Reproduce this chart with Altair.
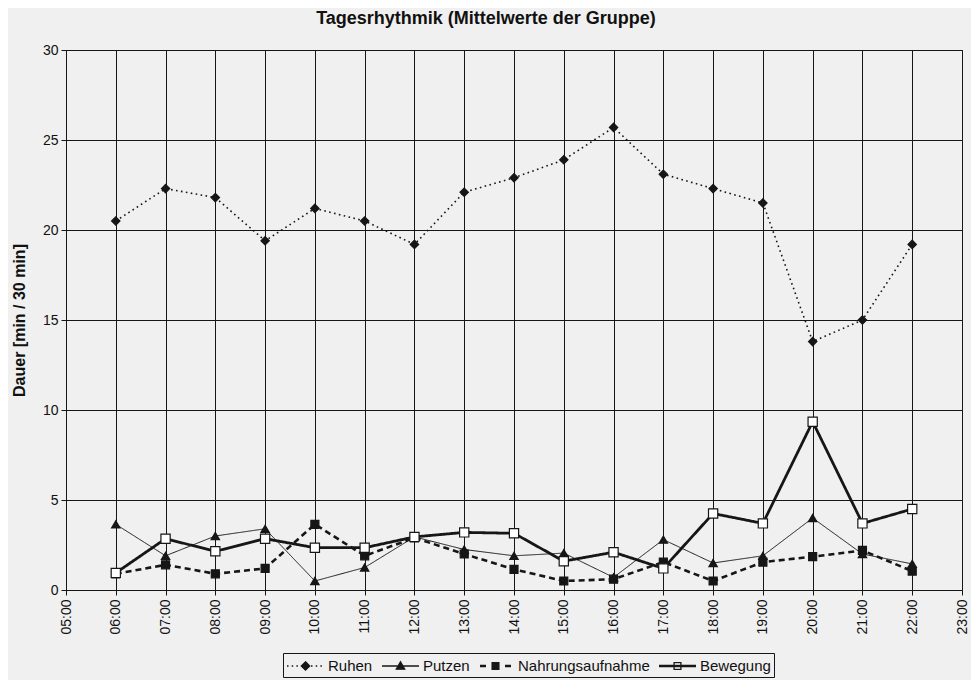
import altair as alt
import pandas as pd

times = ["06:00", "07:00", "08:00", "09:00", "10:00", "11:00", "12:00", "13:00", "14:00",
         "15:00", "16:00", "17:00", "18:00", "19:00", "20:00", "21:00", "22:00"]
series_names = ["Ruhen", "Putzen", "Nahrungsaufnahme", "Bewegung"]
ruhen = [20.5, 22.3, 21.8, 19.4, 21.2, 20.5, 19.2, 22.1, 22.9, 23.9, 25.7, 23.1, 22.3, 21.5, 13.8, 15.0, 19.2]
putzen = [3.65, 1.9, 3.0, 3.4, 0.5, 1.25, 2.95, 2.25, 1.9, 2.05, 0.7, 2.8, 1.5, 1.9, 4.0, 2.0, 1.45]
nahrung = [0.9, 1.4, 0.9, 1.2, 3.65, 1.9, 2.9, 2.0, 1.15, 0.5, 0.6, 1.55, 0.5, 1.55, 1.85, 2.2, 1.05]
bewegung = [0.95, 2.85, 2.15, 2.85, 2.35, 2.35, 2.95, 3.2, 3.15, 1.6, 2.1, 1.2, 4.25, 3.7, 9.35, 3.7, 4.5]
y_ticks = [0, 5, 10, 15, 20, 25, 30]
hour_ticks = list(range(5, 24))

rows = []
for name, vals in zip(series_names, [ruhen, putzen, nahrung, bewegung]):
    for t, v in zip(times, vals):
        rows.append({"Zeit": t, "Stunde": int(t[:2]), "Serie": name, "Wert": v})
df = pd.DataFrame(rows)

INK = "#161616"
FONT = "Liberation Sans"

x = alt.X("Stunde:Q",
          scale=alt.Scale(domain=[5, 23], nice=False, zero=False),
          axis=alt.Axis(values=hour_ticks,
                        labelExpr="(datum.value < 10 ? '0' : '') + datum.value + ':00'",
                        labelAngle=270, labelAlign="right", labelBaseline="middle",
                        labelFontSize=14, labelPadding=4, tickSize=5, grid=True),
          title=None)
y = alt.Y("Wert:Q",
          scale=alt.Scale(domain=[0, 30], nice=False),
          axis=alt.Axis(values=y_ticks, labelFontSize=14, tickSize=5, grid=True,
                        labelPadding=3, titleFontSize=16, titleFontWeight="bold",
                        titlePadding=15),
          title="Dauer [min / 30 min]")

lines = alt.Chart(df).mark_line(color=INK).encode(
    x=x, y=y,
    detail="Serie:N",
    strokeDash=alt.StrokeDash("Serie:N", scale=alt.Scale(domain=series_names,
                              range=[[1.6, 3.4], [1, 0], [6, 4], [1, 0]]), legend=None),
    strokeWidth=alt.StrokeWidth("Serie:N", scale=alt.Scale(type="ordinal", domain=series_names,
                                range=[1.6, 1.0, 2.6, 2.8]), legend=None),
)

points = alt.Chart(df).mark_point(filled=False, stroke=INK, strokeWidth=1.2,
                                  opacity=1, fillOpacity=1).encode(
    x=x, y=y,
    shape=alt.Shape("Serie:N", scale=alt.Scale(domain=series_names,
                    range=["diamond", "triangle-up", "square", "square"]), legend=None),
    fill=alt.Fill("Serie:N", scale=alt.Scale(domain=series_names,
                  range=[INK, INK, INK, "white"]), legend=None),
    size=alt.Size("Serie:N", scale=alt.Scale(type="ordinal", domain=series_names,
                  range=[70, 70, 64, 85]), legend=None),
)

# legend glyphs: drawn in pixel units (0..37 wide), converted to the unit symbol space
SYM = 324            # symbol area -> 18 px box, 9 px per unit
U = 9.0
C = 9.0              # symbol centre inside the entry


def ux(px):
    return (px - C) / U


def seg(x0, x1, dy=0.0):
    return f"M{ux(x0):.3f},{dy / U:.3f} H{ux(x1):.3f}"


def dotted(x0, x1, on, off):
    out = []
    s = x0
    while s < x1:
        out.append(seg(s, min(s + on, x1)))
        s += on + off
    return " ".join(out)


def poly(pts):
    return "M" + " L".join(f"{ux(px):.3f},{py / U:.3f}" for px, py in pts) + " Z"


MID = 18.5
diamond = poly([(MID, -4.2), (MID + 4.2, 0), (MID, 4.2), (MID - 4.2, 0)])
triangle = poly([(MID, -4.2), (MID + 4.2, 3.2), (MID - 4.2, 3.2)])
fsquare = poly([(MID - 3.4, -3.4), (MID + 3.4, -3.4), (MID + 3.4, 3.4), (MID - 3.4, 3.4)])
osquare = poly([(MID - 3.4, -3.4), (MID + 3.4, -3.4), (MID + 3.4, 3.4), (MID - 3.4, 3.4)])
legend_paths = [
    dotted(0, 13, 1.5, 3.2) + " " + dotted(24, 37, 1.5, 3.2) + " " + diamond,
    seg(0, 37) + " " + triangle,
    " ".join([seg(3, 9, -0.6), seg(3, 9, 0.6), seg(28, 34, -0.6), seg(28, 34, 0.6)]) + " " + fsquare,
    " ".join([seg(0, 37, -0.7), seg(0, 37, 0.7)]) + " " + osquare,
]

leg = alt.Legend(title=None, orient="none", legendX=217, legendY=603,
                 direction="horizontal", symbolSize=SYM, symbolStrokeWidth=1.3,
                 symbolStrokeColor=INK, labelFontSize=15, labelFont=FONT,
                 labelColor="#111", labelOffset=22, columnPadding=6,
                 strokeColor=INK, padding=3, cornerRadius=0, symbolOpacity=1)

legend_layer = alt.Chart(df).transform_filter("datum.Wert < -100").mark_point(
    filled=False, strokeWidth=1.3, opacity=1, fillOpacity=1).encode(
    x=x, y=y,
    shape=alt.Shape("Serie:N", scale=alt.Scale(domain=series_names, range=legend_paths),
                    legend=leg),
    fill=alt.Fill("Serie:N", scale=alt.Scale(domain=series_names,
                  range=[INK, INK, INK, "white"]), legend=leg),
    stroke=alt.Stroke("Serie:N", scale=alt.Scale(domain=series_names,
                      range=[INK, INK, INK, INK]), legend=leg),
)

chart = alt.layer(lines, points, legend_layer).resolve_scale(
    shape="independent", fill="independent", size="independent", stroke="independent"
).properties(
    width=896, height=540,
    autosize=alt.AutoSizeParams(type="none"),
    padding={"left": 58, "top": 42, "right": 9, "bottom": 90},
    background="#f0f0f0",
    title=alt.Title("Tagesrhythmik (Mittelwerte der Gruppe)", fontSize=18,
                    font=FONT, fontWeight="bold", color="#111", anchor="middle",
                    dx=-28, offset=15),
).configure_axis(
    gridColor=INK, gridOpacity=1, gridWidth=1, domainColor=INK, domainWidth=1,
    tickColor=INK, labelFont=FONT, titleFont=FONT, labelColor="#111", titleColor="#111",
).configure_view(stroke=INK, strokeWidth=1)

chart.save("out.html", embed_options={"renderer": "svg", "actions": False})
